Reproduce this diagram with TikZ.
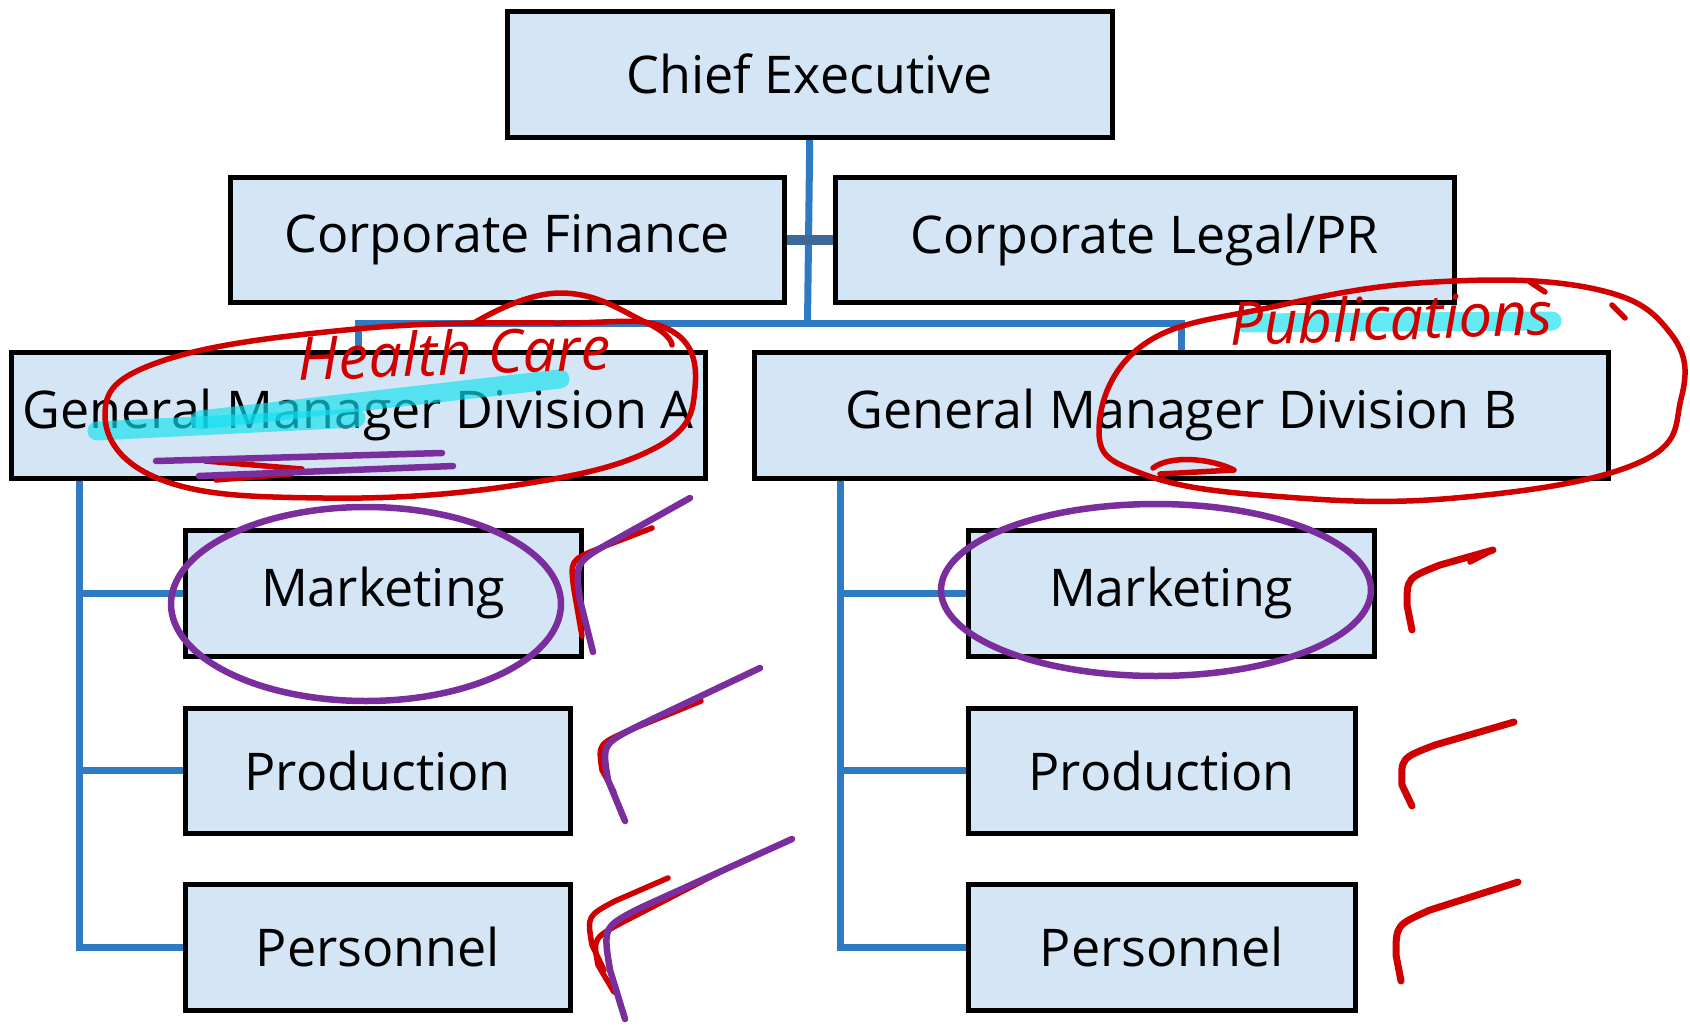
\documentclass[tikz,border=0pt]{standalone}
\usepackage{fontspec}
\setmainfont{Open Sans}
\usetikzlibrary{backgrounds}
\definecolor{boxblue}{HTML}{D4E6F5}
\definecolor{linkblue}{HTML}{2E7BC4}
\definecolor{linkdark}{HTML}{3E6896}
\definecolor{penred}{HTML}{D00000}
\definecolor{penpurple}{HTML}{7A2D9C}
\definecolor{hicyan}{HTML}{10E0F0}
\newcommand\boxfont{\fontsize{52}{60}\selectfont}
\newcommand\handfont{\fontsize{60}{66}\selectfont\itshape}
\tikzset{
  orgbox/.style={draw=black, line width=4.5pt, fill=boxblue, inner sep=0pt,
    anchor=north west, font=\boxfont, text=black},
  link/.style={draw=linkblue, line width=7pt},
  redpen/.style={draw=penred, line width=5.5pt, line cap=round, line join=round},
  purplepen/.style={draw=penpurple, line width=6.5pt, line cap=round, line join=round},
  highlight/.style={draw=hicyan, line width=19pt, opacity=0.65, line cap=round},
  handtext/.style={text=penred, font=\handfont, inner sep=0pt, anchor=base}
}
\begin{document}
\begin{tikzpicture}[x=1pt,y=-1pt]
\useasboundingbox (0,0) rectangle (1690,1028);
% boxes
\node[orgbox, minimum width=605pt, minimum height=126pt] (ce) at (505,9) {Chief Executive};
\node[orgbox, minimum width=554pt, minimum height=125pt] (fin) at (228,175) {Corporate Finance};
\node[orgbox, minimum width=619pt, minimum height=125pt] (leg) at (833,175) {Corporate Legal/PR};
\node[orgbox, minimum width=694pt, minimum height=126pt] (gma) at (9,350) {General Manager Division A};
\node[orgbox, minimum width=854pt, minimum height=126pt] (gmb) at (752,350) {General Manager Division B};
\node[orgbox, minimum width=396pt, minimum height=126pt] (mka) at (183,528) {Marketing};
\node[orgbox, minimum width=385pt, minimum height=125pt] (pra) at (183,706) {Production};
\node[orgbox, minimum width=385pt, minimum height=126pt] (pea) at (183,882) {Personnel};
\node[orgbox, minimum width=406pt, minimum height=126pt] (mkb) at (966,528) {Marketing};
\node[orgbox, minimum width=387pt, minimum height=125pt] (prb) at (966,706) {Production};
\node[orgbox, minimum width=387pt, minimum height=126pt] (peb) at (966,882) {Personnel};
\coordinate (bar) at (807.5,323);
\coordinate (ltop) at ([xshift=70pt]gma.south west);
\coordinate (rtop) at ([xshift=88pt]gmb.south west);
% connectors
\begin{scope}[on background layer]
  \draw[link] (ce.south) -- (bar);
  \draw[link] (gma.north) |- (bar) -| (gmb.north);
  \draw[draw=linkdark, line width=10pt] (fin.east) -- (leg.west);
  \draw[link] (ltop) |- (pea.west);
  \draw[link] (ltop |- mka.west) -- (mka.west);
  \draw[link] (ltop |- pra.west) -- (pra.west);
  \draw[link] (rtop) |- (peb.west);
  \draw[link] (rtop |- mkb.west) -- (mkb.west);
  \draw[link] (rtop |- prb.west) -- (prb.west);
\end{scope}
% highlights
\draw[highlight] (97,431) -- (356,418);
\draw[highlight] (200,420) -- (560,379);
\draw[highlight] (1245,323) -- (1552,321);
% handwritten words
\node[handtext, rotate=2] (hc) at (455,375) {Health Care};
\node[handtext, rotate=2] (pub) at (1392,340) {Publications};
% red loop A
\draw[redpen] plot[smooth cycle, tension=0.7] coordinates {(105,415) (162,361) (356,329) (560,323) (668,329) (695,388) (657,447) (517,485) (323,498) (162,480)};
\draw[redpen] plot[smooth, tension=0.8] coordinates {(474,323) (560,293) (647,323) (672,345)};
\draw[redpen] (205,461) -- (302,469) -- (216,480) -- (291,474);
% purple underlines
\draw[purplepen] (156,461) -- (442,453);
\draw[purplepen] (199,476) -- (453,466);
% red loop B
\draw[redpen] plot[smooth cycle, tension=0.7] coordinates {(1099,431) (1143,345) (1272,307) (1434,282) (1595,289) (1671,334) (1681,399) (1638,463) (1455,498) (1272,496) (1143,474)};
\draw[redpen] (1153,468) .. controls (1170,455) and (1210,458) .. (1234,470) -- (1160,474);
\draw[redpen] (1530,282) -- (1545,292);
\draw[redpen] (1612,305) -- (1625,318);
% purple ellipses
\draw[purplepen] (366,604) ellipse (195 and 97);
\draw[purplepen] (1156,590) ellipse (215 and 86);
% checks, division A
\draw[redpen] (652,528) -- (600,548) .. controls (570,560) .. (574,590) -- (582,636);
\draw[purplepen] (690,498) -- (615,540) .. controls (575,562) .. (580,600) -- (593,652);
\draw[redpen] (701,701) -- (630,730) .. controls (598,744) .. (602,770) -- (614,792);
\draw[purplepen] (760,668) -- (640,725) .. controls (602,744) .. (608,780) -- (625,821);
\draw[redpen] (722,871) -- (625,921) .. controls (593,938) .. (598,965) -- (614,992);
\draw[redpen] (668,878) -- (615,901) .. controls (587,916) .. (592,945) -- (604,970);
\draw[purplepen] (792,839) -- (640,908) .. controls (603,927) .. (610,970) -- (625,1019);
% checks, division B
\draw[redpen, line width=7pt] (1493,550) -- (1440,565) .. controls (1407,578) .. (1407,605) -- (1412,630);
\draw[redpen] (1493,550) -- (1470,562);
\draw[redpen, line width=7pt] (1514,722) -- (1435,745) .. controls (1401,758) .. (1402,785) -- (1412,806);
\draw[redpen, line width=7pt] (1518,882) -- (1430,910) .. controls (1396,925) .. (1396,955) -- (1401,981);
\end{tikzpicture}
\end{document}
